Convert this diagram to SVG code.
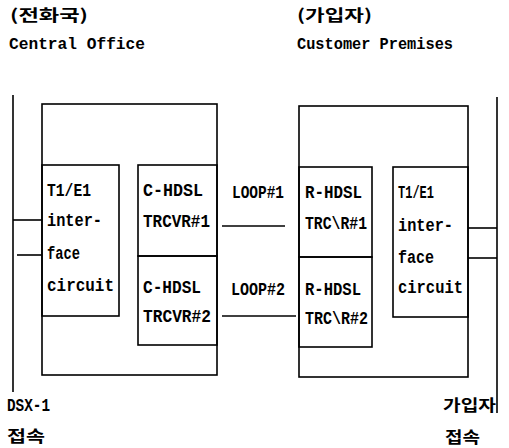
<svg xmlns="http://www.w3.org/2000/svg" width="509" height="448" viewBox="0 0 509 448">
<style>
.bx{fill:none;stroke:#000;stroke-width:1.6}
.ln{fill:none;stroke:#000;stroke-width:1.6}
.t{font-family:"Liberation Mono","DejaVu Sans Mono",monospace;font-weight:bold;font-size:18px;fill:#000}
.h{font-family:"Liberation Mono","DejaVu Sans Mono",monospace;font-weight:bold;font-size:17px;fill:#000}
.k{font-family:"Noto Sans CJK KR","Liberation Sans",sans-serif;font-weight:bold;font-size:16px;fill:#000}
</style>
<rect width="509" height="448" fill="#fff"/>
<g id="labels-top">
<text class="k" x="10" y="21" textLength="78" lengthAdjust="spacingAndGlyphs">(전화국)</text>
<text class="h" x="9" y="49" textLength="136" lengthAdjust="spacingAndGlyphs">Central Office</text>
<text class="k" x="297" y="21" textLength="75" lengthAdjust="spacingAndGlyphs">(가입자)</text>
<text class="h" x="297" y="49" textLength="156" lengthAdjust="spacingAndGlyphs">Customer Premises</text>
</g>
<g id="central-office">
<rect class="bx" x="42" y="104" width="175" height="271"/>
</g>
<g id="co-t1e1">
<rect class="bx" x="42" y="165" width="77" height="151"/>
<text class="t" x="47" y="196" textLength="44" lengthAdjust="spacingAndGlyphs">T1/E1</text>
<text class="t" x="47" y="226" textLength="55" lengthAdjust="spacingAndGlyphs">inter-</text>
<text class="t" x="47" y="259" textLength="33" lengthAdjust="spacingAndGlyphs">face</text>
<text class="t" x="47" y="291" textLength="67" lengthAdjust="spacingAndGlyphs">circuit</text>
</g>
<g id="c-hdsl-1">
<rect class="bx" x="138" y="165" width="79" height="91"/>
<text class="t" x="143" y="196" textLength="60" lengthAdjust="spacingAndGlyphs">C-HDSL</text>
<text class="t" x="143" y="227" textLength="67" lengthAdjust="spacingAndGlyphs">TRCVR#1</text>
</g>
<g id="c-hdsl-2">
<rect class="bx" x="138" y="256" width="79" height="89"/>
<text class="t" x="143" y="293" textLength="58" lengthAdjust="spacingAndGlyphs">C-HDSL</text>
<text class="t" x="143" y="322" textLength="68" lengthAdjust="spacingAndGlyphs">TRCVR#2</text>
</g>
<g id="customer-premises">
<rect class="bx" x="299" y="106" width="169" height="271"/>
</g>
<g id="r-hdsl-1">
<rect class="bx" x="299" y="167" width="73" height="90"/>
<text class="t" x="305" y="198" textLength="57" lengthAdjust="spacingAndGlyphs">R-HDSL</text>
<text class="t" x="305" y="229" textLength="62" lengthAdjust="spacingAndGlyphs">TRC\R#1</text>
</g>
<g id="r-hdsl-2">
<rect class="bx" x="299" y="257" width="73" height="90"/>
<text class="t" x="305" y="295" textLength="56" lengthAdjust="spacingAndGlyphs">R-HDSL</text>
<text class="t" x="305" y="324" textLength="63" lengthAdjust="spacingAndGlyphs">TRC\R#2</text>
</g>
<g id="cp-t1e1">
<rect class="bx" x="393" y="167" width="75" height="150"/>
<text class="t" x="398" y="198" textLength="36" lengthAdjust="spacingAndGlyphs">T1/E1</text>
<text class="t" x="398" y="231" textLength="55" lengthAdjust="spacingAndGlyphs">inter-</text>
<text class="t" x="398" y="263" textLength="36" lengthAdjust="spacingAndGlyphs">face</text>
<text class="t" x="398" y="293" textLength="65" lengthAdjust="spacingAndGlyphs">circuit</text>
</g>
<g id="dsx1">
<line class="ln" x1="13" y1="95" x2="13" y2="392"/>
<text class="t" x="7" y="411" textLength="43" lengthAdjust="spacingAndGlyphs">DSX-1</text>
<text class="k" x="7" y="442" textLength="38" lengthAdjust="spacingAndGlyphs">접속</text>
</g>
<g id="subscriber">
<line class="ln" x1="497" y1="97" x2="497" y2="413"/>
<text class="k" x="443" y="411" textLength="53" lengthAdjust="spacingAndGlyphs">가입자</text>
<text class="k" x="445" y="443" textLength="35" lengthAdjust="spacingAndGlyphs">접속</text>
</g>
<g id="connectors">
<line class="ln" x1="13" y1="220" x2="42" y2="220"/>
<line class="ln" x1="17" y1="255" x2="42" y2="255"/>
<line class="ln" x1="222" y1="226" x2="285" y2="226"/>
<text class="t" x="232" y="198" textLength="52" lengthAdjust="spacingAndGlyphs">LOOP#1</text>
<line class="ln" x1="222" y1="316" x2="296" y2="316"/>
<text class="t" x="231" y="295" textLength="54" lengthAdjust="spacingAndGlyphs">LOOP#2</text>
<line class="ln" x1="468" y1="228" x2="497" y2="228"/>
<line class="ln" x1="468" y1="258" x2="497" y2="258"/>
</g>
</svg>
